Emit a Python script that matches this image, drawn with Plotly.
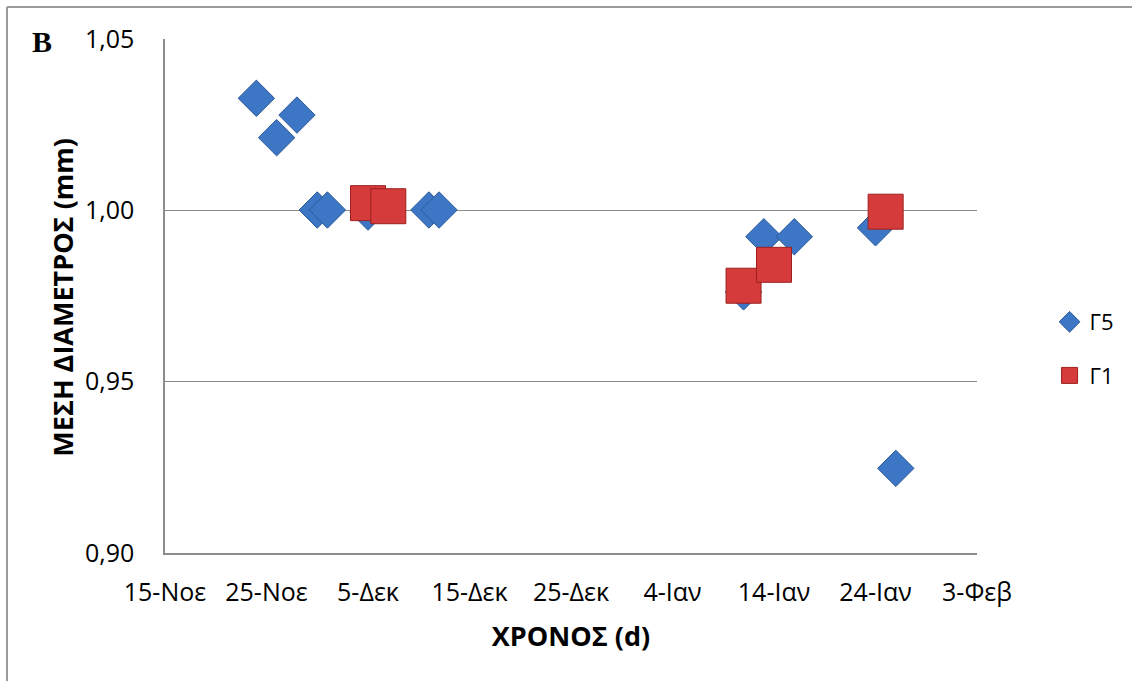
import plotly.graph_objects as go

# Γ5 measurements (date, mean diameter in mm)
g5_dates = ["2010-11-24", "2010-11-26", "2010-11-28", "2010-11-30", "2010-12-01",
            "2010-12-05", "2010-12-11", "2010-12-12", "2011-01-11", "2011-01-13",
            "2011-01-16", "2011-01-24", "2011-01-26"]
g5_values = [1.0327, 1.0212, 1.0278, 1.0001, 1.0001,
             0.9995, 1.0001, 1.0001, 0.9762, 0.9923,
             0.9923, 0.9949, 0.9247]

# Γ1 measurements
g1_dates = ["2010-12-05", "2010-12-07", "2011-01-11", "2011-01-14", "2011-01-25"]
g1_values = [1.0021, 1.0012, 0.9780, 0.9841, 0.9996]

# x-axis ticks every 10 days
tick_dates = ["2010-11-15", "2010-11-25", "2010-12-05", "2010-12-15", "2010-12-25",
              "2011-01-04", "2011-01-14", "2011-01-24", "2011-02-03"]
tick_labels = ["15-Νοε", "25-Νοε", "5-Δεκ", "15-Δεκ", "25-Δεκ",
               "4-Ιαν", "14-Ιαν", "24-Ιαν", "3-Φεβ"]

y_ticks = [0.90, 0.95, 1.00, 1.05]
y_labels = ["0,90", "0,95", "1,00", "1,05"]

FONT = "Open Sans"
GRID = "#8c8c8c"

fig = go.Figure()

fig.add_trace(go.Scatter(
    x=g5_dates, y=g5_values, mode="markers", name="Γ5",
    legendgroup="g5",
    marker=dict(symbol="diamond", size=28, color="#3d76c4",
                line=dict(color="#2b5a98", width=1)),
))
fig.add_trace(go.Scatter(
    x=g1_dates, y=g1_values, mode="markers", name="Γ1",
    legendgroup="g1",
    marker=dict(symbol="square", size=35, color="#d63b3b",
                line=dict(color="#9c2020", width=1)),
))

PL, PR, PT, PB = 165, 150, 39, 128
W, H = 1132, 681
pw, ph = W - PL - PR, H - PT - PB

fig.update_layout(
    width=W, height=H,
    margin=dict(l=PL, r=PR, t=PT, b=PB),
    paper_bgcolor="white", plot_bgcolor="white",
    font=dict(family=FONT, color="black", size=25),
    showlegend=True,
    legend=dict(
        x=(1055 - PL) / pw, xanchor="left",
        y=(H - PB - 349) / ph, yanchor="middle",
        font=dict(family=FONT, size=22, color="black"),
        tracegroupgap=22, bgcolor="rgba(0,0,0,0)",
    ),
    xaxis=dict(
        type="date",
        range=["2010-11-15", "2011-02-03"],
        tickvals=tick_dates, ticktext=tick_labels,
        ticks="", showgrid=False, zeroline=False,
        showline=True, linecolor=GRID, linewidth=1.5,
        tickfont=dict(family=FONT, size=25),
        ticklabelstandoff=16,
        title=dict(text="<b>ΧΡΟΝΟΣ (d)</b>", font=dict(family=FONT, size=27), standoff=20),
    ),
    yaxis=dict(
        range=[0.90, 1.05],
        tickvals=y_ticks, ticktext=y_labels,
        ticks="", showgrid=True, gridcolor=GRID, gridwidth=1.3,
        zeroline=False,
        showline=True, linecolor=GRID, linewidth=1.5,
        tickfont=dict(family=FONT, size=25),
        ticklabelstandoff=24,
    ),
    shapes=[
        # outer chart frame (left and top edges)
        dict(type="line", xref="paper", yref="paper",
             x0=(6 - PL) / pw, x1=(6 - PL) / pw, y0=-0.5, y1=(H - PB - 7) / ph,
             line=dict(color="#9a9a9a", width=2)),
        dict(type="line", xref="paper", yref="paper",
             x0=(6 - PL) / pw, x1=1.5, y0=(H - PB - 7) / ph, y1=(H - PB - 7) / ph,
             line=dict(color="#9a9a9a", width=2)),
    ],
    annotations=[
        dict(text="<b>B</b>", xref="paper", yref="paper",
             x=(41 - PL) / pw, y=(H - PB - 42) / ph, xanchor="center", yanchor="middle",
             showarrow=False, font=dict(family="Liberation Serif", size=30, color="black")),
        # y-axis title
        dict(text="<b>ΜΕΣΗ ΔΙΑΜΕΤΡΟΣ (mm)</b>", xref="paper", yref="paper",
             x=(61 - PL) / pw, y=(H - PB - 297) / ph, xanchor="center", yanchor="middle",
             textangle=-90, showarrow=False,
             font=dict(family=FONT, size=27, color="black")),
    ],
)

fig.write_html("out.html")
